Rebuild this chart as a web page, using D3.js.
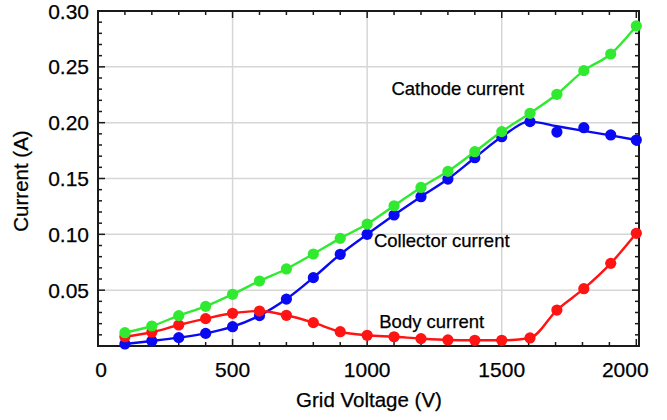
<!DOCTYPE html>
<html>
<head>
<meta charset="utf-8">
<script src="https://cdn.jsdelivr.net/npm/d3@7"></script>
<style>
  html, body { margin: 0; padding: 0; background: #fff; }
  text { font-family: "Liberation Sans", Arial, Helvetica, sans-serif; fill: #000; stroke: #000; stroke-width: 0.25px; }
</style>
</head>
<body>
<svg id="chart" width="667" height="420"></svg>
<script>
// ---- data ----
const gridVoltage = [100, 200, 300, 400, 500, 600, 700, 800, 900, 1000,
                     1100, 1200, 1300, 1400, 1500, 1605, 1705, 1805, 1905, 2000];
const cathodeCurrent = [0.0119, 0.0179, 0.0272, 0.0355, 0.0463, 0.0582, 0.0690, 0.0824, 0.0964, 0.1092,
                        0.1256, 0.1420, 0.1564, 0.1740, 0.1920, 0.2084, 0.2254, 0.2466, 0.2615, 0.2866];
const collectorCurrent = [0.0018, 0.0045, 0.0075, 0.0113, 0.0173, 0.0272, 0.0420, 0.0612, 0.0821, 0.1000,
                          0.1173, 0.1337, 0.1495, 0.1686, 0.1874, 0.2009, 0.1916, 0.1955, 0.1890, 0.1845];
const collectorFit = [0.0018, 0.0045, 0.0075, 0.0113, 0.0173, 0.0272, 0.0420, 0.0612, 0.0821, 0.1000,
                      0.1173, 0.1337, 0.1495, 0.1686, 0.1874, 0.2009, 0.1968, 0.1927, 0.1886, 0.1845];
const bodyCurrent = [0.0083, 0.0123, 0.0188, 0.0245, 0.0293, 0.0313, 0.0275, 0.0209, 0.0128, 0.0096,
                     0.0083, 0.0066, 0.0054, 0.0051, 0.0051, 0.0072, 0.0322, 0.0513, 0.0740, 0.1009];
const xTickValues = [0, 500, 1000, 1500, 2000];
const xTickLabels = ["0", "500", "1000", "1500", "2000"];
const yTickValues = [0.05, 0.10, 0.15, 0.20, 0.25, 0.30];
const yTickLabels = ["0.05", "0.10", "0.15", "0.20", "0.25", "0.30"];
const seriesNames = ["Collector current", "Body current", "Cathode current"];
const seriesColors = ["#0a0af2", "#ff1414", "#30ea30"];
const annotationNames = ["Cathode current", "Collector current", "Body current"];
const annotationAt = [[1090, 0.225], [1025, 0.089], [1045, 0.016]];

// ---- layout ----
const svg = d3.select("#chart");
const L = 98, R = 639, T = 11, B = 346;
const x = d3.scaleLinear().domain([0, 2010]).range([L, R]);
const y = d3.scaleLinear().domain([0, 0.30]).range([B, T]);

// grid
const grid = svg.append("g");
grid.selectAll("line.gx").data(xTickValues.filter(v => v > 0 && v < 2000)).join("line")
  .attr("x1", d => x(d)).attr("x2", d => x(d)).attr("y1", T).attr("y2", B)
  .attr("stroke", "#d6d6d6").attr("stroke-width", 1.5);
grid.selectAll("line.gy").data(yTickValues.filter(v => v < 0.30)).join("line")
  .attr("y1", d => y(d)).attr("y2", d => y(d)).attr("x1", L).attr("x2", R)
  .attr("stroke", "#d6d6d6").attr("stroke-width", 1.5);

// ticks (inward)
const minorX = d3.range(100, 2001, 100).filter(v => !xTickValues.includes(v));
const minorY = d3.range(1, 30).map(i => i / 100).filter(v => !yTickValues.some(t => Math.abs(t - v) < 1e-9));
const tk = svg.append("g").attr("stroke", "#1a1a1a").attr("stroke-width", 1.5);
function xt(vals, len) {
  vals.forEach(v => {
    tk.append("line").attr("x1", x(v)).attr("x2", x(v)).attr("y1", B).attr("y2", B - len);
    tk.append("line").attr("x1", x(v)).attr("x2", x(v)).attr("y1", T).attr("y2", T + len);
  });
}
function yt(vals, len) {
  vals.forEach(v => {
    tk.append("line").attr("y1", y(v)).attr("y2", y(v)).attr("x1", L).attr("x2", L + len);
    tk.append("line").attr("y1", y(v)).attr("y2", y(v)).attr("x1", R).attr("x2", R - len);
  });
}
xt(xTickValues.filter(v => v > 0), 7); xt(minorX, 4);
yt(yTickValues, 7); yt(minorY, 4);

// frame
svg.append("rect").attr("x", L).attr("y", T).attr("width", R - L).attr("height", B - T)
  .attr("fill", "none").attr("stroke", "#1a1a1a").attr("stroke-width", 2);

// tick labels
svg.append("g").selectAll("text").data(xTickValues).join("text")
  .attr("x", (d, i) => x(d) + (i === 0 ? 3 : 0) - (d === 2000 ? 11 : 0))
  .attr("y", 377).attr("text-anchor", "middle").attr("font-size", 21)
  .text((d, i) => xTickLabels[i]);
svg.append("g").selectAll("text").data(yTickValues).join("text")
  .attr("x", 89).attr("y", d => y(d) + 7.5).attr("text-anchor", "end").attr("font-size", 21)
  .text((d, i) => yTickLabels[i]);

// axis titles
svg.append("text").attr("x", 369).attr("y", 407).attr("text-anchor", "middle")
  .attr("font-size", 20.5).text("Grid Voltage (V)");
svg.append("text").attr("transform", "translate(28,181) rotate(-90)").attr("text-anchor", "middle")
  .attr("font-size", 20.5).text("Current (A)");

// series
const seriesPoints = [collectorCurrent, bodyCurrent, cathodeCurrent];
const seriesLines = [collectorFit, bodyCurrent, cathodeCurrent];
const line = d3.line().x((d, i) => x(gridVoltage[i])).y(d => y(d)).curve(d3.curveMonotoneX);
const plot = svg.append("g");
seriesNames.forEach((name, s) => {
  const g = plot.append("g");
  g.append("path").datum(seriesLines[s]).attr("d", line)
    .attr("fill", "none").attr("stroke", seriesColors[s]).attr("stroke-width", 2.4);
  g.selectAll("circle").data(seriesPoints[s]).join("circle")
    .attr("cx", (d, i) => x(gridVoltage[i])).attr("cy", d => y(d)).attr("r", 5.6)
    .attr("fill", seriesColors[s]);
});

// annotations
svg.append("g").selectAll("text").data(annotationNames).join("text")
  .attr("x", (d, i) => x(annotationAt[i][0])).attr("y", (d, i) => y(annotationAt[i][1]))
  .attr("font-size", 18.5).text(d => d);
</script>
</body>
</html>
